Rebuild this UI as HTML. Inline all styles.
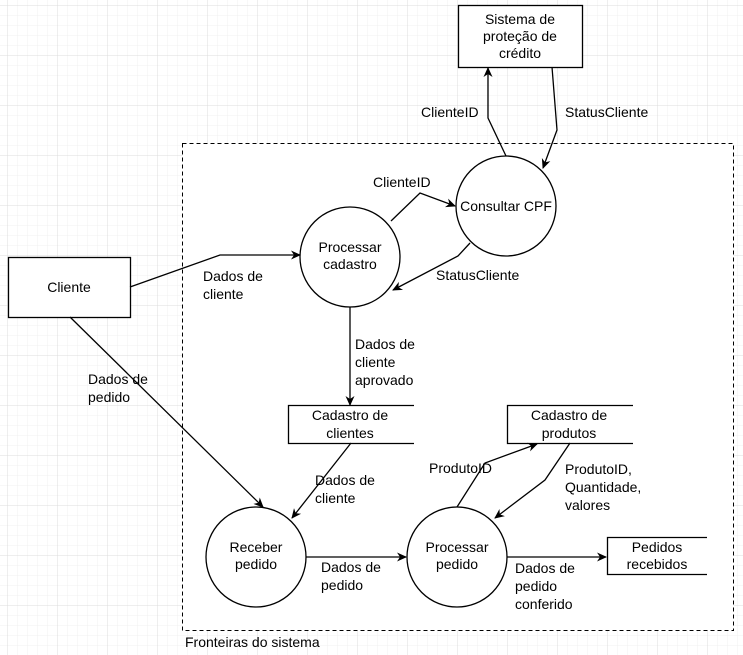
<!DOCTYPE html>
<html><head><meta charset="utf-8"><style>
html,body{margin:0;padding:0;background:#fff}
svg{display:block}
text{font-family:"Liberation Sans",Arial,sans-serif;font-size:14px;fill:#000}
</style></head><body>
<svg width="743" height="655" viewBox="0 0 743 655" xmlns="http://www.w3.org/2000/svg">
<defs>
<pattern id="minor" width="10" height="10" patternUnits="userSpaceOnUse" x="7" y="5">
<path d="M0 0H10M0 0V10" stroke="#f1f1f1" stroke-width="1" fill="none"/>
</pattern>
<pattern id="major" width="50" height="50" patternUnits="userSpaceOnUse" x="7" y="5">
<path d="M0 0H50M0 0V50" stroke="#dcdcdc" stroke-width="1" fill="none"/>
</pattern>
<marker id="a" markerWidth="10" markerHeight="10" refX="9" refY="5" orient="auto" markerUnits="userSpaceOnUse">
<path d="M0,0.5 L10,5 L0,9.5 L3,5 Z" fill="#000"/>
</marker>
</defs>
<rect width="743" height="655" fill="url(#minor)"/>
<rect width="743" height="655" fill="url(#major)"/>
<rect x="182.5" y="143.5" width="551" height="487" fill="#fff" stroke="#000" stroke-dasharray="4,3"/>

<g fill="#fff" stroke="#000" stroke-width="1.3">
<rect x="8.5" y="257.5" width="122" height="60"/>
<rect x="458.5" y="5.5" width="124" height="62"/>
<circle cx="350" cy="257" r="50"/>
<circle cx="506" cy="206" r="50"/>
<circle cx="256" cy="557" r="50"/>
<circle cx="457" cy="557" r="50"/>
</g>
<g fill="none" stroke="#000" stroke-width="1.3">
<path d="M414 405.5H288.5V443.5H414"/>
<path d="M633 405.5H507.5V443.5H633"/>
<path d="M707 537.5H607.5V574.5H707"/>
</g>
<g fill="none" stroke="#000" stroke-width="1.3" marker-end="url(#a)">
<path d="M130 287L220 255H300"/>
<path d="M70 317L263 507"/>
<path d="M391 221L420 193L455 206"/>
<path d="M470 243L458 256L393 290"/>
<path d="M506 156L488 118V68"/>
<path d="M552 67L557 130L543 168"/>
<path d="M350 307V405"/>
<path d="M351 443L292 518"/>
<path d="M306 557H406"/>
<path d="M457 507L485 463L537 444"/>
<path d="M570 443L545 480L495 518"/>
<path d="M507 557H606"/>
</g>

<g text-anchor="middle">
<text x="69" y="292">Cliente</text>
<text x="520" y="24">Sistema de</text>
<text x="520" y="41">proteção de</text>
<text x="520" y="58">crédito</text>
<text x="350" y="252">Processar</text>
<text x="350" y="269">cadastro</text>
<text x="506" y="211">Consultar CPF</text>
<text x="256" y="552">Receber</text>
<text x="256" y="569">pedido</text>
<text x="457" y="552">Processar</text>
<text x="457" y="569">pedido</text>
<text x="350" y="420">Cadastro de</text>
<text x="350" y="438">clientes</text>
<text x="569" y="420">Cadastro de</text>
<text x="569" y="438">produtos</text>
<text x="657" y="552">Pedidos</text>
<text x="657" y="569">recebidos</text>
</g>
<g>
<text x="203" y="281">Dados de</text>
<text x="203" y="299">cliente</text>
<text x="88" y="384">Dados de</text>
<text x="88" y="402">pedido</text>
<text x="373" y="187">ClienteID</text>
<text x="436" y="280">StatusCliente</text>
<text x="421" y="117">ClienteID</text>
<text x="565" y="117">StatusCliente</text>
<text x="355" y="349">Dados de</text>
<text x="355" y="367">cliente</text>
<text x="355" y="385">aprovado</text>
<text x="315" y="485">Dados de</text>
<text x="315" y="503">cliente</text>
<text x="429" y="473">ProdutoID</text>
<text x="565" y="474">ProdutoID,</text>
<text x="565" y="492">Quantidade,</text>
<text x="565" y="510">valores</text>
<text x="321" y="572">Dados de</text>
<text x="321" y="590">pedido</text>
<text x="515" y="573">Dados de</text>
<text x="515" y="591">pedido</text>
<text x="515" y="609">conferido</text>
<text x="185" y="647">Fronteiras do sistema</text>
</g>
</svg>
</body></html>
